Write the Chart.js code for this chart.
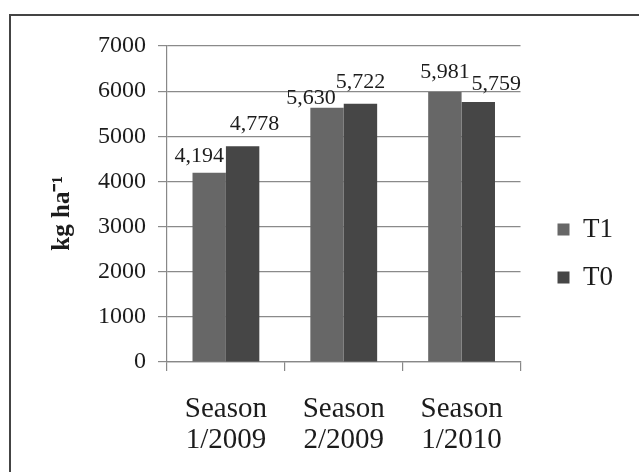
<!DOCTYPE html>
<html><head><meta charset="utf-8">
<script src="https://cdn.jsdelivr.net/npm/chart.js@4/dist/chart.umd.min.js"></script>
<style>html,body{margin:0;padding:0;background:#fff;overflow:hidden}#wrap{width:639px;height:472px;position:relative}</style>
</head><body><div id="wrap"><canvas id="c" width="639" height="472"></canvas></div>
<script>
// ---- data ----
const categories = [["Season", "1/2009"], ["Season", "2/2009"], ["Season", "1/2010"]];
const seriesNames = ["T1", "T0"];
const t1Values = [4194, 5630, 5981];
const t0Values = [4778, 5722, 5759];
const yTickValues = [0, 1000, 2000, 3000, 4000, 5000, 6000, 7000];
const yTitle = "kg ha\u207B\u00B9";

// ---- styling ----
const seriesColors = ["#676767", "#464646"];
const serif = "'Liberation Serif', 'Times New Roman', serif";
const textColor = "#1c1c1c";
// per-label nudges (dx, dy) relative to default position above each bar
const labelNudges = [
  [[-10, 4], [-16, 11], [0, 1]],
  [[12, -1], [0, -1], [18, 3]]
];

const frame = {
  id: 'frame',
  beforeDraw(chart) {
    const ctx = chart.ctx;
    ctx.save();
    ctx.fillStyle = '#fff';
    ctx.fillRect(0, 0, chart.width, chart.height);
    ctx.strokeStyle = '#444';
    ctx.lineWidth = 2;
    ctx.beginPath();
    ctx.moveTo(10, chart.height);
    ctx.lineTo(10, 15);
    ctx.lineTo(chart.width, 15);
    ctx.stroke();
    ctx.restore();
  }
};

const legendNudge = {
  id: 'legendNudge',
  afterLayout(chart) {
    const lg = chart.legend;
    if (lg) { lg.left += 16; lg.right += 16; }
  }
};

const valueLabels = {
  id: 'valueLabels',
  afterDatasetsDraw(chart) {
    const ctx = chart.ctx;
    ctx.save();
    ctx.font = "22px " + serif;
    ctx.fillStyle = textColor;
    ctx.textAlign = 'center';
    ctx.textBaseline = 'alphabetic';
    chart.data.datasets.forEach((ds, di) => {
      const meta = chart.getDatasetMeta(di);
      meta.data.forEach((el, i) => {
        const n = labelNudges[di][i];
        const txt = ds.data[i].toLocaleString('en-US');
        ctx.fillText(txt, el.x + n[0], el.y - 22 + 7 + n[1]);
      });
    });
    ctx.restore();
  }
};

new Chart(document.getElementById('c'), {
  type: 'bar',
  data: {
    labels: categories,
    datasets: [
      { label: seriesNames[0], data: t1Values, backgroundColor: seriesColors[0], borderWidth: 0 },
      { label: seriesNames[1], data: t0Values, backgroundColor: seriesColors[1], borderWidth: 0 }
    ]
  },
  options: {
    responsive: false,
    devicePixelRatio: 1,
    animation: false,
    categoryPercentage: 0.567,
    barPercentage: 1,
    layout: { padding: { left: 40, top: 46, right: 32, bottom: 11 } },
    plugins: {
      tooltip: { enabled: false },
      legend: {
        position: 'right',
        labels: {
          boxWidth: 12, boxHeight: 12, padding: 21,
          color: textColor,
          font: { family: serif, size: 27 }
        }
      }
    },
    scales: {
      x: {
        afterFit(s) { s.height = 99; },
        grid: { drawOnChartArea: false, drawTicks: true, tickLength: 9, color: '#888', lineWidth: 1.2 },
        border: { color: '#888', width: 1.2 },
        ticks: { color: textColor, padding: 22, font: { family: serif, size: 29, lineHeight: 1.1 }, maxRotation: 0 }
      },
      y: {
        min: 0, max: 7000,
        afterFit(s) { s.width = 127; },
        afterBuildTicks(s) { s.ticks = yTickValues.map(v => ({ value: v })); },
        grid: { color: '#8a8a8a', lineWidth: 1.2, tickLength: 9 },
        border: { color: '#888', width: 1.2 },
        ticks: { color: textColor, padding: 12, font: { family: serif, size: 24 }, callback: v => String(v) },
        title: {
          display: true, text: yTitle + "   ", color: textColor,
          font: { family: serif, size: 25, weight: 'bold', lineHeight: 1.2 },
          padding: { top: 8, bottom: 0 }
        }
      }
    }
  },
  plugins: [frame, legendNudge, valueLabels]
});
</script></body></html>
